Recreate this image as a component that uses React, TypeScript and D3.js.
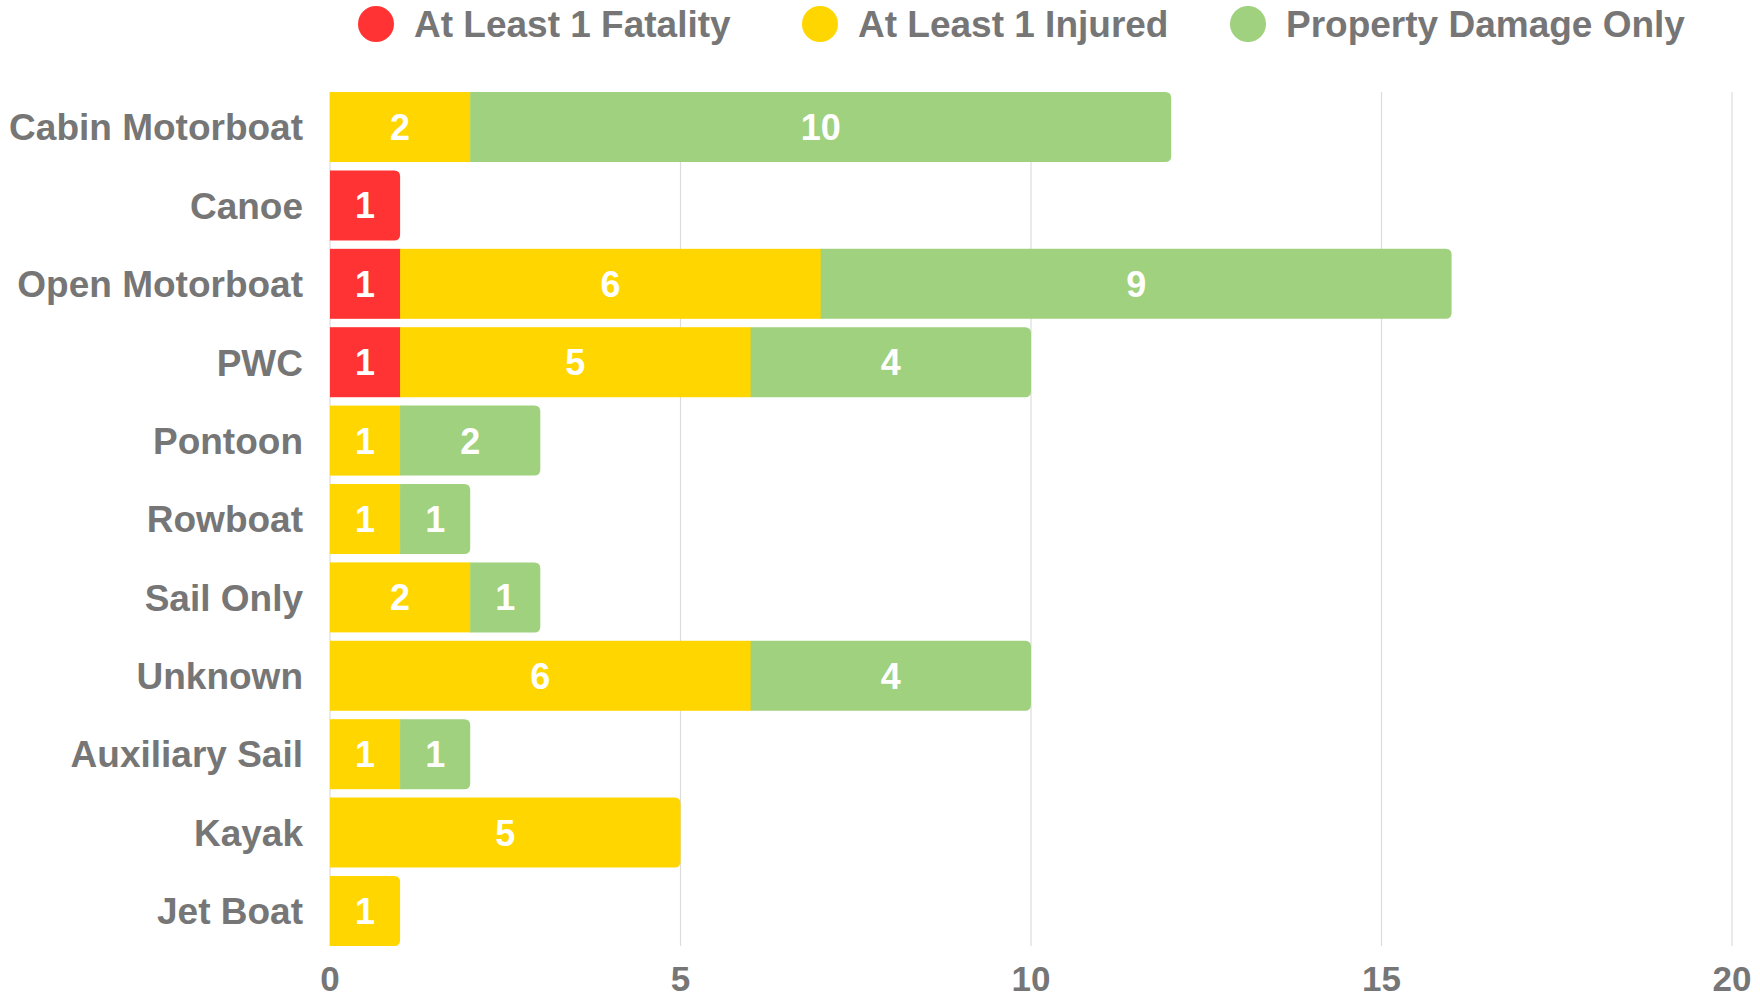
import React from "react";
import * as d3 from "d3";

const categories = [
  "Cabin Motorboat",
  "Canoe",
  "Open Motorboat",
  "PWC",
  "Pontoon",
  "Rowboat",
  "Sail Only",
  "Unknown",
  "Auxiliary Sail",
  "Kayak",
  "Jet Boat",
];
const fatality = [0, 1, 1, 1, 0, 0, 0, 0, 0, 0, 0];
const injured = [2, 0, 6, 5, 1, 1, 2, 6, 1, 5, 1];
const propertyOnly = [10, 0, 9, 4, 2, 1, 1, 4, 1, 0, 0];
const seriesNames = ["At Least 1 Fatality", "At Least 1 Injured", "Property Damage Only"];
const seriesColors = ["#FF3333", "#FFD600", "#A0D17E"];
const xTicks = [0, 5, 10, 15, 20];

const W = 1760;
const H = 999;
const textGray = "#767676";

// rect with only the right corners rounded
function rightRounded(x: number, y: number, w: number, h: number, r: number) {
  const rr = Math.min(r, w / 2, h / 2);
  return `M${x},${y}H${x + w - rr}Q${x + w},${y} ${x + w},${y + rr}V${y + h - rr}Q${x + w},${y + h} ${x + w - rr},${y + h}H${x}Z`;
}

export default function App() {
  const x = d3.scaleLinear().domain([0, 20]).range([330, 1732]);
  const y = d3.scaleBand<string>().domain(categories).range([87.8, 950.2]).paddingInner(0.107).paddingOuter(0.054);

  const rows = categories.map((c, i) => ({ c, vals: [fatality[i], injured[i], propertyOnly[i]] }));
  const stack = d3.stack<any>().keys(["0", "1", "2"])(rows.map((r) => ({ "0": r.vals[0], "1": r.vals[1], "2": r.vals[2] })));

  const legendX = [376, 820, 1248];

  return (
    <svg width={W} height={H} style={{ position: "absolute", left: 0, top: 0, background: "#fff" }}>
      {/* legend */}
      {seriesNames.map((s, i) => (
        <g key={s}>
          <circle cx={legendX[i]} cy={24} r={18} fill={seriesColors[i]} />
          <text
            x={legendX[i] + 38}
            y={24}
            dy="0.36em"
            fill={textGray}
            fontFamily="'Liberation Sans', Arial, sans-serif"
            fontWeight="bold"
            fontSize={37}
          >
            {s}
          </text>
        </g>
      ))}

      {/* gridlines */}
      {xTicks.map((t) => (
        <line key={t} x1={x(t)} x2={x(t)} y1={92} y2={946} stroke="#dcdcdc" strokeWidth={1.2} />
      ))}

      {/* bars */}
      {rows.map((r, i) => {
        const lastIdx = r.vals.reduce((acc, v, k) => (v > 0 ? k : acc), -1);
        const yy = y(r.c)!;
        const h = y.bandwidth();
        return (
          <g key={r.c}>
            {stack.map((layer, k) => {
              const [a, b] = layer[i];
              if (b - a <= 0) return null;
              const x0 = x(a);
              const w = x(b) - x(a);
              return (
                <g key={k}>
                  {k === lastIdx ? (
                    <path d={rightRounded(x0, yy, w, h, 6)} fill={seriesColors[k]} />
                  ) : (
                    <rect x={x0} y={yy} width={w + 0.5} height={h} fill={seriesColors[k]} />
                  )}
                  <text
                    x={x0 + w / 2}
                    y={yy + h / 2}
                    dy="0.36em"
                    textAnchor="middle"
                    fill="#fff"
                    fontFamily="'Liberation Sans', Arial, sans-serif"
                    fontWeight="bold"
                    fontSize={36}
                  >
                    {b - a}
                  </text>
                </g>
              );
            })}
            <text
              x={303}
              y={yy + h / 2}
              dy="0.36em"
              textAnchor="end"
              fill={textGray}
              fontFamily="'Liberation Sans', Arial, sans-serif"
              fontWeight="bold"
              fontSize={37}
            >
              {r.c}
            </text>
          </g>
        );
      })}

      {/* x axis labels */}
      {xTicks.map((t) => (
        <text
          key={t}
          x={x(t)}
          y={991}
          textAnchor="middle"
          fill={textGray}
          fontFamily="'Liberation Sans', Arial, sans-serif"
          fontWeight="bold"
          fontSize={35}
        >
          {t}
        </text>
      ))}
    </svg>
  );
}
